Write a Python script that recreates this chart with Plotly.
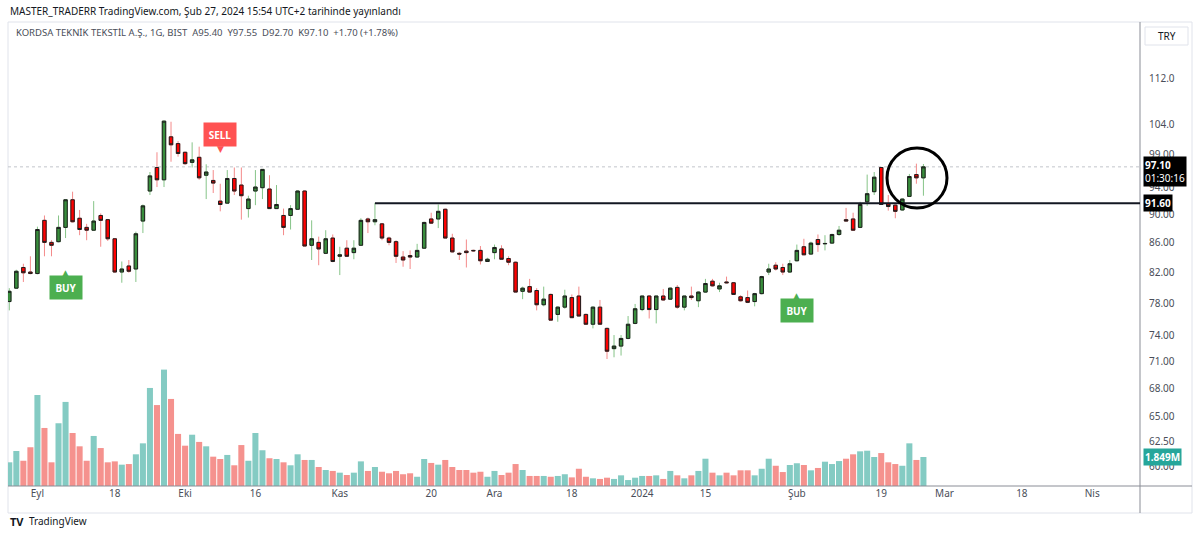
import numpy as np
import pandas as pd
import plotly.graph_objects as go

# ---------------- data ----------------
holidays = ["2023-08-30", "2024-01-01"]
all_days = pd.bdate_range("2023-08-25", "2024-04-05")
trade_days = all_days[~all_days.isin(pd.to_datetime(holidays))]

opens = [78.2, 79.9, 82.6, 82.0, 81.8, 89.1, 86.0, 86.1, 88.1, 92.1, 89.4, 88.1, 87.7, 89.8, 89.2, 86.5,
         82.0, 82.8, 82.4, 89.0, 93.4, 97.0, 95.1, 101.9, 100.8, 99.4, 97.8, 98.6, 95.8, 95.0, 91.9, 91.6,
         95.3, 94.3, 90.8, 93.4, 93.9, 93.7, 90.8, 89.8, 89.8, 90.7, 93.4, 85.6, 86.0, 84.5, 86.6, 84.1,
         85.2, 84.6, 85.6, 89.3, 88.9, 88.6, 86.6, 86.1, 84.0, 84.2, 84.0, 85.2, 89.3, 89.3, 90.7, 86.6,
         84.5, 84.8, 84.9, 84.9, 83.4, 84.6, 85.1, 83.8, 83.3, 79.5, 80.1, 79.6, 77.8, 79.1, 76.6, 77.5,
         78.7, 78.9, 76.6, 75.4, 77.5, 74.9, 72.5, 72.8, 73.7, 75.5, 77.2, 78.9, 77.2, 78.9, 78.5, 80.0,
         77.5, 78.9, 78.3, 79.4, 80.8, 79.8, 80.7, 80.6, 78.8, 78.7, 78.2, 79.2, 82.0, 82.9, 82.6, 82.0,
         83.5, 85.4, 84.4, 86.4, 85.8, 85.9, 87.1, 89.2, 89.3, 88.1, 91.8, 93.3, 97.0, 91.5, 91.3, 90.6,
         92.6, 95.9, 95.40]
highs = [79.9, 82.3, 83.1, 84.1, 88.2, 89.8, 86.3, 89.8, 92.1, 93.3, 90.6, 88.6, 91.9, 90.1, 89.3, 86.6,
         83.4, 83.6, 87.5, 91.4, 96.3, 99.4, 104.6, 104.4, 101.2, 99.5, 101.0, 100.3, 97.5, 96.6, 94.5, 96.6,
         97.0, 97.0, 92.7, 96.6, 96.7, 95.8, 94.3, 90.8, 91.3, 93.5, 93.5, 89.1, 86.8, 87.7, 87.1, 85.4,
         86.3, 86.3, 89.4, 89.5, 91.6, 88.7, 86.8, 86.3, 84.8, 84.9, 85.8, 88.9, 90.2, 91.4, 90.8, 87.2,
         84.7, 86.4, 85.0, 85.5, 83.9, 85.7, 85.6, 84.1, 83.4, 80.1, 81.1, 79.9, 80.1, 79.2, 77.6, 79.7,
         79.1, 80.1, 76.7, 77.6, 78.4, 75.0, 74.1, 74.1, 76.4, 77.9, 78.9, 79.0, 78.9, 79.8, 80.0, 80.3,
         78.9, 80.1, 79.5, 81.1, 81.1, 80.6, 81.4, 80.7, 79.0, 79.6, 79.3, 81.5, 83.1, 83.3, 83.1, 83.6,
         85.7, 86.5, 86.1, 87.1, 87.0, 87.2, 88.3, 90.9, 90.2, 91.8, 95.9, 96.3, 97.1, 92.8, 91.4, 92.3,
         96.0, 97.6, 97.55]
lows = [77.1, 79.8, 80.7, 81.7, 81.7, 84.1, 84.1, 86.0, 86.6, 88.8, 87.0, 86.3, 87.6, 85.4, 86.2, 81.9,
        80.6, 81.9, 80.7, 87.3, 92.8, 94.0, 94.0, 97.9, 98.7, 97.4, 97.0, 95.1, 92.2, 93.1, 90.4, 91.5,
        92.8, 89.2, 89.5, 91.3, 92.2, 90.8, 90.8, 87.0, 87.8, 90.6, 85.5, 83.6, 82.9, 84.4, 83.3, 81.6,
        84.0, 83.7, 85.5, 87.3, 88.4, 86.3, 85.6, 83.2, 82.7, 82.4, 83.9, 85.1, 88.6, 88.0, 86.6, 84.6,
        83.6, 82.6, 84.7, 83.0, 83.4, 83.7, 83.7, 82.9, 79.4, 78.5, 79.3, 77.1, 77.6, 75.9, 75.7, 77.3,
        76.2, 76.4, 75.4, 74.9, 75.4, 71.3, 71.5, 71.7, 73.6, 75.4, 77.0, 76.1, 75.5, 78.3, 78.4, 77.3,
        77.1, 78.4, 77.5, 79.3, 80.1, 79.4, 80.5, 79.1, 78.2, 78.0, 77.6, 79.1, 81.6, 82.2, 81.6, 81.9,
        83.4, 84.3, 84.3, 84.7, 84.9, 85.8, 86.9, 89.0, 87.7, 88.0, 91.2, 92.8, 91.4, 90.5, 89.4, 90.5,
        92.5, 94.5, 92.70]
closes = [79.5, 82.1, 81.9, 81.8, 87.8, 86.0, 85.6, 88.1, 92.1, 88.9, 87.8, 87.7, 89.0, 89.1, 86.5, 82.0,
          82.4, 82.1, 87.2, 91.2, 95.7, 95.1, 104.5, 100.6, 99.2, 97.6, 98.2, 95.4, 96.3, 94.6, 91.4, 95.3,
          93.4, 92.7, 92.2, 94.0, 96.7, 90.8, 91.4, 88.1, 90.8, 93.4, 85.5, 86.5, 85.1, 86.5, 83.4, 84.3,
          84.1, 85.2, 89.1, 88.9, 89.2, 86.6, 86.0, 84.1, 83.6, 84.0, 84.9, 88.8, 88.7, 90.4, 86.6, 84.7,
          84.4, 84.6, 84.85, 83.5, 83.7, 85.3, 83.7, 83.3, 79.4, 79.9, 79.4, 77.8, 78.5, 75.9, 77.5, 78.9,
          76.2, 76.4, 75.4, 77.5, 75.4, 72.2, 72.8, 73.7, 75.4, 77.3, 78.9, 77.2, 78.9, 78.4, 79.9, 77.5,
          78.9, 78.7, 79.4, 80.5, 80.2, 80.2, 80.6, 79.1, 78.3, 78.1, 79.2, 81.4, 82.4, 82.4, 82.0, 83.1,
          84.9, 84.3, 85.9, 85.7, 85.85, 87.1, 87.7, 89.0, 87.7, 91.4, 93.0, 95.5, 91.4, 91.1, 90.4, 92.2,
          95.6, 95.4, 97.10]
volumes_m = [1.51, 2.23, 1.61, 2.47, 5.80, 3.70, 1.51, 4.00, 5.36, 3.38, 2.53, 1.61, 3.19, 2.42, 1.51, 1.57,
             1.36, 1.40, 2.02, 2.72, 6.25, 5.16, 7.42, 5.55, 3.32, 2.57, 3.27, 2.81, 2.53, 1.87, 1.72, 1.98,
             1.32, 2.61, 1.61, 3.38, 2.28, 1.77, 1.72, 1.51, 1.32, 2.02, 1.66, 1.66, 1.21, 1.02, 0.96, 0.85,
             0.70, 0.85, 1.57, 0.96, 1.21, 0.91, 0.81, 0.96, 0.75, 0.81, 0.59, 1.72, 1.47, 1.36, 1.66, 1.21,
             1.02, 1.02, 0.85, 0.91, 0.59, 0.96, 0.70, 0.85, 1.40, 1.02, 0.64, 0.64, 0.64, 0.59, 0.64, 0.75,
             0.55, 1.10, 0.59, 0.49, 0.45, 0.53, 0.45, 0.68, 0.38, 0.53, 0.64, 0.64, 0.68, 0.45, 0.96, 0.68,
             0.49, 0.68, 0.96, 1.74, 0.85, 0.68, 0.85, 0.68, 1.00, 1.00, 0.68, 1.10, 1.74, 1.29, 0.89, 1.34,
             1.45, 1.34, 1.00, 1.15, 1.55, 1.40, 1.59, 1.74, 2.02, 2.21, 2.25, 1.85, 2.10, 1.51, 1.40, 1.29,
             2.72, 1.66, 1.849]

tick_dates = ["2023-09-01", "2023-09-18", "2023-10-02", "2023-10-16", "2023-11-01", "2023-11-20",
              "2023-12-01", "2023-12-18", "2024-01-02", "2024-01-15", "2024-02-01", "2024-02-19",
              "2024-03-01", "2024-03-18", "2024-04-01"]
tick_labels = ["Eyl", "18", "Eki", "16", "Kas", "20", "Ara", "18", "2024", "15", "Şub", "19",
               "Mar", "18", "Nis"]

price_ticks = [60.0, 62.5, 65.0, 68.0, 71.0, 74.0, 78.0, 82.0, 86.0, 90.0, 94.0, 99.0, 104.0, 112.0]
price_tick_text = ["60.00", "62.50", "65.00", "68.00", "71.00", "74.00", "78.00", "82.00", "86.00",
                   "90.00", "94.00", "99.00", "104.0", "112.0"]

signal_idx = [8, 30, 112]
signal_type = ["BUY", "SELL", "BUY"]
resistance_idx = 52          # bar whose high defines the drawn horizontal level
countdown = "01:30:16"

# ---------------- derived ----------------
n = len(closes)
x = np.arange(n)
o = np.array(opens); h = np.array(highs); l = np.array(lows); c = np.array(closes)
up = c >= o
tickvals = [trade_days.get_loc(pd.Timestamp(d)) for d in tick_dates]

W, H = 1200, 536
ML, MR, MT, MB = 8, 60, 22, 50
PW, PH = W - ML - MR, H - MT - MB
def px_x(px): return (px - ML) / PW
def px_y(py): return (H - MB - py) / PH

x_range = [-0.185, 160.8]
y_range = [np.log10(58.14), np.log10(122.55)]
vol_top = 29.58

UP_BODY, DN_BODY = "#388e3c", "#ff0000"
UP_WICK, DN_WICK = "#86c488", "#f48a8a"
VOL_UP, VOL_DN = "#84cbc3", "#f5928e"
FONT = "Noto Sans"

fig = go.Figure()

fig.add_trace(go.Bar(
    x=x, y=volumes_m, yaxis="y2",
    marker=dict(color=[VOL_UP if u else VOL_DN for u in up], line=dict(width=0)),
    hoverinfo="skip", showlegend=False))

# wicks
fig.add_trace(go.Candlestick(
    x=x, open=o, high=h, low=l, close=c, whiskerwidth=0,
    increasing=dict(line=dict(color=UP_WICK, width=1), fillcolor="rgba(0,0,0,0)"),
    decreasing=dict(line=dict(color=DN_WICK, width=1), fillcolor="rgba(0,0,0,0)"),
    hoverinfo="skip", showlegend=False))
# bodies with dark outline
fig.add_trace(go.Candlestick(
    x=x, open=o, high=np.maximum(o, c), low=np.minimum(o, c), close=c, whiskerwidth=0,
    increasing=dict(line=dict(color="#1e1e1e", width=1), fillcolor=UP_BODY),
    decreasing=dict(line=dict(color="#1e1e1e", width=1), fillcolor=DN_BODY),
    hoverinfo="skip", showlegend=False))

shapes = []
grey_line = "#8a8d96"
# pane border
shapes.append(dict(type="rect", xref="paper", yref="paper", x0=px_x(8), x1=px_x(1192),
                   y0=px_y(513), y1=px_y(22), line=dict(color="#e0e3eb", width=1), layer="below"))
# axis separator lines
shapes.append(dict(type="line", xref="paper", yref="paper", x0=1, x1=1, y0=px_y(513), y1=px_y(22),
                   line=dict(color=grey_line, width=1)))
shapes.append(dict(type="line", xref="paper", yref="paper", x0=0, x1=px_x(1192), y0=0, y1=0,
                   line=dict(color=grey_line, width=1)))
# last price dotted line
shapes.append(dict(type="line", xref="paper", yref="y", x0=0, x1=1, y0=closes[-1], y1=closes[-1],
                   line=dict(color="#c3c5cc", width=1, dash="dot"), layer="below"))
# resistance line
lvl = highs[resistance_idx]
shapes.append(dict(type="line", xref="x", yref="y", x0=resistance_idx, x1=x_range[1], y0=lvl, y1=lvl,
                   line=dict(color="#131722", width=2)))
# circle
shapes.append(dict(type="circle", xref="paper", yref="paper", x0=px_x(887), x1=px_x(947),
                   y0=px_y(208), y1=px_y(148), line=dict(color="#000000", width=3)))
# TRY box
shapes.append(dict(type="rect", xref="paper", yref="paper", x0=px_x(1145), x1=px_x(1188),
                   y0=px_y(45), y1=px_y(27), line=dict(color="#e0e3eb", width=1)))

ann = []
ann.append(dict(xref="paper", yref="paper", x=px_x(8), y=px_y(11), xanchor="left", yanchor="middle",
                text="MASTER_TRADERR TradingView.com, Şub 27, 2024 15:54 UTC+2 tarihinde yayınlandı",
                showarrow=False, font=dict(family=FONT, size=10, color="#131722")))
chg = closes[-1] - closes[-2]
pct = chg / closes[-2] * 100
legend_txt = (f"KORDSA TEKNİK TEKSTİL A.Ş., 1G, BIST&nbsp;&nbsp;A{opens[-1]:.2f}&nbsp;&nbsp;Y{highs[-1]:.2f}"
              f"&nbsp;&nbsp;D{lows[-1]:.2f}&nbsp;&nbsp;K{closes[-1]:.2f}&nbsp;&nbsp;{chg:+.2f} ({pct:+.2f}%)")
ann.append(dict(xref="paper", yref="paper", x=px_x(14), y=px_y(33), xanchor="left", yanchor="middle",
                text=legend_txt, showarrow=False, font=dict(family=FONT, size=9.5, color="#4a4e59")))
ann.append(dict(xref="paper", yref="paper", x=px_x(1166.5), y=px_y(36), xanchor="center", yanchor="middle",
                text="TRY", showarrow=False, font=dict(family=FONT, size=10, color="#131722")))
# signals
for i, t in zip(signal_idx, signal_type):
    if t == "BUY":
        yv, sh, col, arrow, ash = np.log10(lows[i]), -49, "#4caf50", "▲", -35
    else:
        yv, sh, col, arrow, ash = np.log10(highs[i]), 49, "#ff5252", "▼", 35
    ann.append(dict(x=i, y=yv, xref="x", yref="y", yshift=sh, text=f"<b>{t}</b>", showarrow=False,
                    bgcolor=col, width=30, height=21, font=dict(family=FONT, size=10, color="white"),
                    xanchor="center", yanchor="middle"))
    ann.append(dict(x=i, y=yv, xref="x", yref="y", yshift=ash, text=arrow, showarrow=False,
                    font=dict(family="DejaVu Sans", size=9, color=col), xanchor="center", yanchor="middle"))
# price labels on axis
ann.append(dict(xref="paper", yref="y", x=px_x(1143), y=np.log10(closes[-1]), yshift=-5,
                text=f"<b>{closes[-1]:.2f}</b><br>{countdown}", showarrow=False, align="left",
                bgcolor="#000000", font=dict(family=FONT, size=10, color="white"),
                xanchor="left", yanchor="middle", borderpad=1))
ann.append(dict(xref="paper", yref="y", x=px_x(1143), y=np.log10(lvl),
                text=f"<b>{lvl:.2f}</b>", showarrow=False, bgcolor="#000000",
                font=dict(family=FONT, size=10, color="white"), xanchor="left", yanchor="middle",
                borderpad=1))
ann.append(dict(xref="paper", yref="y2", x=px_x(1143), y=volumes_m[-1],
                text=f"<b>{volumes_m[-1]:.3f}M</b>", showarrow=False, bgcolor="#26a69a",
                font=dict(family=FONT, size=10, color="white"), xanchor="left", yanchor="middle",
                borderpad=1))
# TradingView footer
ann.append(dict(xref="paper", yref="paper", x=px_x(8), y=px_y(521), xanchor="left", yanchor="middle",
                text="<b>TV</b>", showarrow=False, font=dict(family=FONT, size=11, color="#131722")))
ann.append(dict(xref="paper", yref="paper", x=px_x(27), y=px_y(521), xanchor="left", yanchor="middle",
                text="TradingView", showarrow=False, font=dict(family=FONT, size=10, color="#131722")))

fig.update_layout(
    width=W, height=H, margin=dict(l=ML, r=MR, t=MT, b=MB),
    paper_bgcolor="white", plot_bgcolor="white",
    showlegend=False, bargap=0.14, boxgap=0.3,
    xaxis=dict(range=x_range, tickvals=tickvals, ticktext=tick_labels, showgrid=False, zeroline=False,
               showline=False, ticks="", tickfont=dict(family=FONT, size=10, color="#4a4e59"),
               rangeslider=dict(visible=False), fixedrange=True),
    yaxis=dict(type="log", range=y_range, side="right", tickvals=price_ticks, ticktext=price_tick_text,
               showgrid=False, zeroline=False, showline=False, ticks="", ticklabelstandoff=8,
               tickfont=dict(family=FONT, size=10, color="#4a4e59"), fixedrange=True),
    yaxis2=dict(overlaying="y", range=[0, vol_top], visible=False, fixedrange=True),
    shapes=shapes, annotations=ann,
)

fig.write_html("out.html")
